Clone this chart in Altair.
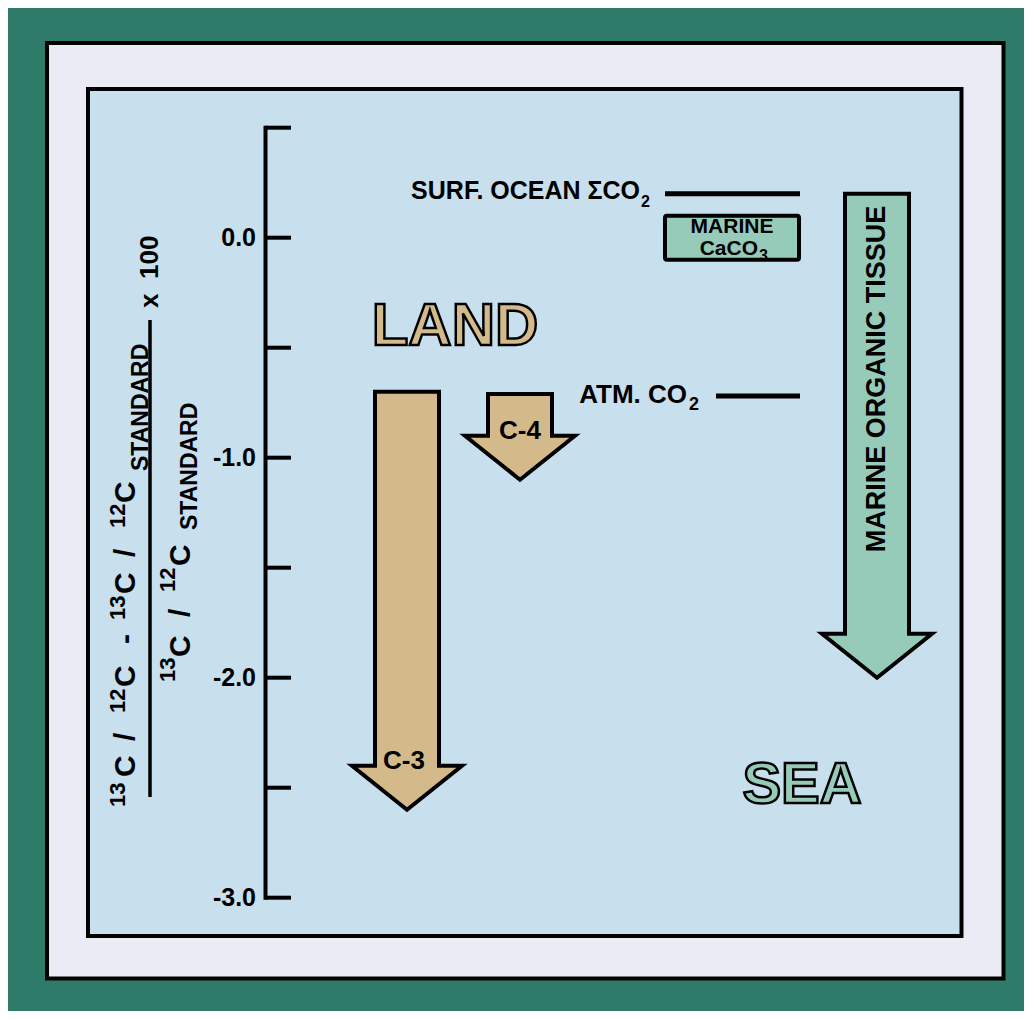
import altair as alt
import pandas as pd

# ---------------- values (delta 13C, per-mil / 10) ----------------
tick_values  = [-3.0, -2.5, -2.0, -1.5, -1.0, -0.5, 0.0, 0.5]
label_values = [-3.0, -2.0, -1.0, 0.0]
arrow_names  = ["C-3", "C-4", "MARINE ORGANIC TISSUE"]
arrow_realm  = ["LAND", "LAND", "SEA"]
arrow_start  = [-0.70, -0.71, 0.20]
arrow_tip    = [-2.60, -1.10, -2.00]
level_labels = ["SURF. OCEAN ΣCO", "ATM. CO"]
level_subs   = ["2", "2"]
level_values = [0.20, -0.72]
caco3_lines  = ["MARINE", "CaCO"]
caco3_range  = [0.10, -0.10]
realm_labels = ["LAND", "SEA"]

# ---------------- layout & styles (page pixel coordinates) ----------------
W, H = 1016, 1003
Y0_PAGE, PX_PER_UNIT = 237.7, 220.0
FONT = "Liberation Sans"
GREEN_BG, LAVENDER, PANEL = "#2e7b6a", "#ebebf5", "#c8dfed"
TAN, SEAGREEN = "#d4ba8b", "#97cbb9"
realm_fill = {"LAND": TAN, "SEA": SEAGREEN}

AXIS_X, TICK_END, LABEL_X = 265.5, 291, 256
arrow_cx = [407, 520, 877]
SHAFT_HALF, HEAD_HALF, HEAD_LEN = 32, 55, 0.20
EPS = 1e-4
level_x = [(665, 800), (716, 800)]
caco3_x = (665, 799)
level_text_pos = [(640, 199, 25), (687, 403, 26)]
level_sub_pos = [(641, 207, 16), (689, 410, 18)]


def yv(py):
    """page y pixel -> value on the delta axis"""
    return (Y0_PAGE - py) / PX_PER_UNIT


xscale = alt.Scale(domain=[8, 8 + W], range=[0, W], nice=False, zero=False)
yscale = alt.Scale(domain=[-3.0, 0.5],
                   range=[Y0_PAGE - 8 + 3.0 * PX_PER_UNIT, Y0_PAGE - 8 - 0.5 * PX_PER_UNIT],
                   nice=False, zero=False)


def X(f):
    return alt.X(f, scale=xscale, axis=None)


def Y(f):
    return alt.Y(f, scale=yscale, axis=None)


# ---------------- frames ----------------
frames_df = pd.DataFrame({
    "x": [47, 88], "x2": [1003.5, 961.5],
    "v": [yv(43), yv(89)], "v2": [yv(978.5), yv(936)],
    "fill": [LAVENDER, PANEL],
})
frames = alt.Chart(frames_df).mark_rect(stroke="black", strokeWidth=4).encode(
    x=X("x:Q"), x2="x2:Q", y=Y("v:Q"), y2="v2:Q",
    fill=alt.Fill("fill:N", scale=None),
)

# ---------------- value axis (domain, ticks, labels through the y scale) ----------------
dom_df = pd.DataFrame({"x": [AXIS_X], "v": [min(tick_values)], "v2": [max(tick_values)]})
axis_domain = alt.Chart(dom_df).mark_rule(color="black", strokeWidth=4, strokeCap="square").encode(
    x=X("x:Q"), y=Y("v:Q"), y2="v2:Q")
ticks_df = pd.DataFrame({"v": tick_values, "x": AXIS_X, "x2": TICK_END})
axis_ticks = alt.Chart(ticks_df).mark_rule(color="black", strokeWidth=4).encode(
    x=X("x:Q"), x2="x2:Q", y=Y("v:Q"))
lab_df = pd.DataFrame({"v": label_values, "x": LABEL_X,
                       "t": [f"{v:.1f}" for v in label_values]})
axis_labels = alt.Chart(lab_df).mark_text(
    align="right", baseline="middle", font=FONT, fontWeight="bold", fontSize=25, color="black"
).encode(x=X("x:Q"), y=Y("v:Q"), text="t:N")

# ---------------- arrows ----------------
rows = []
for name, realm, s, t, cx in zip(arrow_names, arrow_realm, arrow_start, arrow_tip, arrow_cx):
    neck = t + HEAD_LEN
    for v, half in [(s, SHAFT_HALF), (neck + EPS, SHAFT_HALF), (neck, HEAD_HALF), (t, 0)]:
        rows.append(dict(name=name, v=v, xl=cx - half, xr=cx + half, fill=realm_fill[realm]))
arrows_df = pd.DataFrame(rows)
arrows = alt.Chart(arrows_df).mark_area(
    orient="horizontal", stroke="black", strokeWidth=4, strokeJoin="miter",
    strokeMiterLimit=20, interpolate="linear",
).encode(
    y=Y("v:Q"),
    x=alt.X("xl:Q", scale=xscale, axis=None, stack=False), x2="xr:Q",
    detail="name:N",
    fill=alt.Fill("fill:N", scale=None),
)

# ---------------- level lines & CaCO3 box ----------------
lev_df = pd.DataFrame({"name": level_labels, "v": level_values,
                       "x": [a for a, b in level_x], "x2": [b for a, b in level_x]})
levels = alt.Chart(lev_df).mark_rule(color="black", strokeWidth=5).encode(
    x=X("x:Q"), x2="x2:Q", y=Y("v:Q"))
box_df = pd.DataFrame({"x": [caco3_x[0]], "x2": [caco3_x[1]], "v": [caco3_range[0]], "v2": [caco3_range[1]]})
box = alt.Chart(box_df).mark_rect(fill=SEAGREEN, stroke="black", strokeWidth=4, cornerRadius=2).encode(
    x=X("x:Q"), x2="x2:Q", y=Y("v:Q"), y2="v2:Q")

# fraction bar of the axis title
bar_df = pd.DataFrame({"x": [150], "v": [yv(320)], "v2": [yv(797)]})
bar = alt.Chart(bar_df).mark_rule(color="black", strokeWidth=3.5).encode(
    x=X("x:Q"), y=Y("v:Q"), y2="v2:Q")


def text_layer(rows, align="center", baseline="alphabetic", angle=0, dy=0, **kw):
    df = pd.DataFrame(rows, columns=["t", "px", "v", "fs"])
    return alt.Chart(df).mark_text(
        align=align, baseline=baseline, angle=angle, dy=dy,
        font=FONT, fontWeight="bold", **kw,
    ).encode(
        x=X("px:Q"), y=Y("v:Q"), text="t:N",
        size=alt.Size("fs:Q", scale=None, legend=None),
    )


# ---------------- axis title (rotated fraction) ----------------
# (token, role, page-y where token starts)
numerator = [("13", "sup", 807), ("C", "main", 777), ("/", "main", 741), ("12", "sup", 713),
             ("C", "main", 687), ("-", "main", 644), ("13", "sup", 620), ("C", "main", 594),
             ("/", "main", 557), ("12", "sup", 528), ("C", "main", 503), ("STANDARD", "sub", 471)]
denominator = [("13", "sup", 682), ("C", "main", 657), ("/", "main", 617), ("12", "sup", 592),
               ("C", "main", 566), ("STANDARD", "sub", 530)]
multiplier = [("x", 308), ("100", 279)]
num_style = {"sup": (125, 22), "main": (135, 30), "sub": (148, 23)}
den_style = {"sup": (175, 22), "main": (190, 30), "sub": (197, 23)}

title_rows = []
for tok, role, py in numerator:
    bx, fs = num_style[role]
    title_rows.append((tok, bx, yv(py), fs))
for tok, role, py in denominator:
    bx, fs = den_style[role]
    title_rows.append((tok, bx, yv(py), fs))
for tok, py in multiplier:
    title_rows.append((tok, 158, yv(py), 26))
title_text = text_layer(title_rows, align="left", angle=270, color="black")

# ---------------- annotations ----------------
level_text = text_layer([(lbl, px, yv(py), fs) for lbl, (px, py, fs) in zip(level_labels, level_text_pos)],
                        align="right", color="black")
level_sub = text_layer([(s, px, yv(py), fs) for s, (px, py, fs) in zip(level_subs, level_sub_pos)],
                       align="left", color="black")
caco3_text = text_layer([(caco3_lines[0], 732, yv(233), 21)], align="center", color="black")
caco3_main = text_layer([(caco3_lines[1], 758, yv(255), 21)], align="right", color="black")
caco3_sub = text_layer([("3", 759, yv(261), 16)], align="left", color="black")

arrow_lbl = text_layer([(arrow_names[0], 404, arrow_tip[0] + HEAD_LEN, 26),
                        (arrow_names[1], 520, arrow_tip[1] + HEAD_LEN, 26)],
                       align="center", dy=3, color="black")
marine_lbl = text_layer([(arrow_names[2], 876.5, yv(379), 27)],
                        align="center", baseline="middle", angle=270, color="black")

land_lbl = text_layer([(realm_labels[0], 455, yv(345), 60)], align="center",
                      fill=TAN, stroke="black", strokeWidth=2.5)
sea_lbl = text_layer([(realm_labels[1], 802, yv(803), 58)], align="center",
                     fill=SEAGREEN, stroke="black", strokeWidth=2.5)

chart = alt.layer(
    frames, axis_domain, axis_ticks, axis_labels, arrows, levels, box, bar, title_text,
    level_text, level_sub, caco3_text, caco3_main, caco3_sub, arrow_lbl, marine_lbl,
    land_lbl, sea_lbl,
).properties(
    width=W, height=H, autosize="none", padding=0,
).configure(background=GREEN_BG).configure_view(strokeWidth=0)

chart.save("out.html", embed_options={"renderer": "svg", "actions": False})
